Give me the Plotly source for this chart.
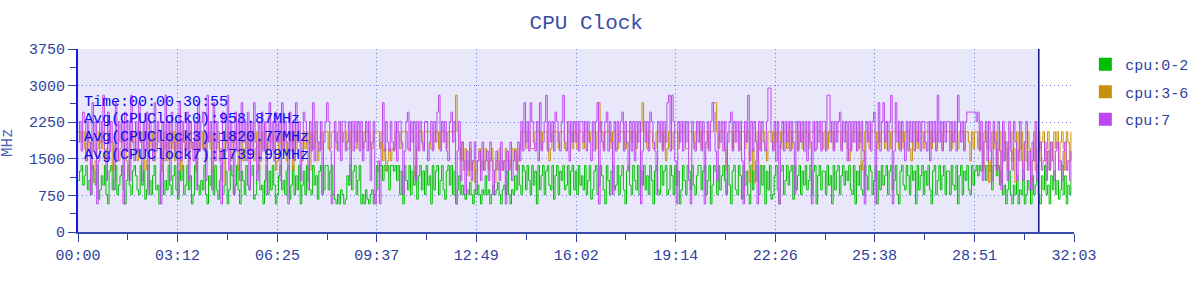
import plotly.graph_objects as go

# ---------------- data (MHz, one sample every 3 s) ----------------
sample_step_s = 3
cpu_0_2 = [
    1056, 1248, 1363, 960, 1152, 1363, 864, 1056, 768, 1363, 1248, 960, 1363, 672, 864, 1152, 960, 1363, 768, 576,
    1248, 1363, 864, 1056, 1363, 768, 960, 1152, 1363, 864, 576, 1056, 1363, 960, 768, 1248, 1363, 1152, 864, 768,
    1363, 960, 1248, 672, 864, 1363, 1056, 768, 1152, 1363, 864, 960, 576, 1248, 1363, 768, 1056, 864, 1363, 960,
    768, 1152, 1363, 864, 672, 1248, 1056, 1363, 768, 960, 1363, 864, 1152, 576, 768, 1363, 1248, 960, 768, 1056,
    864, 1363, 768, 576, 1152, 960, 1248, 768, 1363, 864, 672, 1056, 1363, 768, 960, 1248, 576, 864, 1363, 1152,
    768, 960, 1363, 864, 576, 1248, 1056, 768, 1363, 960, 864, 1152, 1363, 672, 768, 1248, 1363, 864, 960, 576,
    1056, 1363, 768, 1248, 864, 1363, 960, 576, 768, 1152, 1363, 864, 1056, 768, 1248, 1363, 672, 960, 1363, 768,
    1152, 864, 1363, 576, 960, 1248, 768, 1363, 1056, 864, 768, 1363, 960, 1152, 672, 1248, 1363, 768, 864, 1363,
    1363, 864, 1248, 1363, 768, 672, 576, 768, 576, 864, 768, 576, 672, 1152, 960, 1363, 864, 1248, 1363, 768,
    1056, 1363, 576, 768, 576, 864, 672, 576, 768, 864, 576, 768, 1363, 1248, 1363, 1363, 1056, 1363, 1248, 1363,
    864, 1363, 1363, 1248, 1363, 1056, 1363, 768, 1248, 576, 1363, 1056, 864, 1363, 768, 1248, 960, 1363, 672, 1152,
    1363, 864, 1248, 768, 1363, 960, 1152, 576, 1363, 864, 1248, 1363, 768, 1056, 1363, 864, 672, 1248, 1363, 960,
    1363, 768, 1248, 576, 864, 1152, 768, 960, 768, 672, 864, 768, 1017, 768, 576, 864, 768, 960, 768, 576,
    864, 768, 1152, 768, 864, 576, 768, 960, 768, 864, 1017, 768, 576, 864, 960, 768, 1248, 768, 576, 864,
    768, 1152, 864, 1363, 960, 768, 1363, 1248, 864, 1363, 1056, 768, 1363, 960, 1248, 576, 1363, 864, 1152, 1363,
    768, 1248, 1363, 960, 864, 1363, 672, 1152, 1363, 768, 1248, 1056, 1363, 864, 960, 1363, 768, 1248, 1363, 864,
    1248, 768, 1363, 960, 1152, 864, 1363, 768, 1056, 1363, 672, 864, 1248, 1363, 768, 960, 1363, 1152, 864, 576,
    1363, 1056, 768, 1248, 1363, 864, 960, 1363, 768, 1152, 1363, 864, 576, 1248, 1363, 960, 768, 1363, 1056, 864,
    1363, 768, 1248, 960, 1363, 864, 1152, 768, 1363, 1056, 576, 1248, 1363, 864, 768, 1363, 960, 1248, 1363, 768,
    864, 1363, 1152, 768, 1363, 960, 1248, 576, 864, 1363, 1056, 768, 1363, 1248, 864, 1363, 960, 768, 1152, 1363,
    1363, 864, 1248, 1363, 768, 1056, 1363, 576, 960, 1363, 1248, 768, 1363, 864, 1152, 1363, 1056, 768, 1363, 960,
    576, 1248, 1363, 864, 768, 1363, 1152, 672, 1363, 960, 1248, 768, 576, 1363, 864, 1248, 1363, 1056, 768, 1363,
    960, 1363, 576, 1248, 864, 1363, 672, 768, 1152, 1363, 864, 576, 1248, 1363, 768, 1056, 1363, 960, 1248, 1363,
    672, 1363, 864, 1152, 1363, 768, 1248, 960, 1363, 864, 1056, 1363, 768, 1248, 1363, 576, 1152, 1363, 864, 1248,
    1248, 768, 1363, 960, 1152, 576, 1363, 864, 1248, 1363, 768, 1152, 1363, 960, 1248, 1056, 1363, 864, 768, 1363,
    576, 1248, 960, 1363, 864, 768, 1363, 1152, 864, 1363, 1248, 768, 1056, 1363, 576, 1248, 864, 1363, 960, 1152,
    1363, 768, 1248, 1363, 864, 1056, 1363, 768, 576, 1248, 1363, 960, 864, 1363, 1152, 768, 1363, 1056, 1248, 576,
    1363, 864, 1152, 1363, 768, 1248, 960, 1363, 864, 576, 1248, 1363, 768, 1056, 1363, 864, 1152, 1363, 768, 1248,
    1248, 768, 1363, 960, 864, 1363, 576, 1152, 1363, 768, 1248, 1056, 1363, 864, 768, 1363, 960, 1248, 1363, 1152,
    1363, 1248, 1363, 1363, 1056, 1363, 1248, 1363, 864, 1363, 1363, 1152, 1363, 960, 1248, 768, 960, 576, 864, 1248,
    768, 576, 960, 768, 1152, 576, 864, 768, 1248, 576, 768, 1056, 864, 576, 1152, 768, 960, 1363, 768, 576,
    1152, 864, 1363, 768, 960, 576, 1152, 864, 1248, 768, 1056, 672, 864, 1363, 768, 1152, 576, 960, 768, 1056,
]
cpu_3_6 = [
    2054, 2054, 1843, 2054, 1708, 1459, 2054, 1708, 1843, 1267, 1017, 1459, 1708, 2054, 1843, 1708, 2054, 1459, 1708, 2054,
    2054, 1843, 1267, 1708, 2054, 2054, 1459, 1708, 1843, 2054, 1708, 1459, 1152, 1708, 2054, 1843, 2054, 1708, 1459, 2054,
    1843, 2054, 1708, 1267, 1459, 2054, 1843, 1708, 2054, 1459, 1708, 2054, 2054, 1843, 1267, 1708, 2054, 1459, 1843, 2054,
    1708, 2054, 1459, 1843, 2054, 1708, 1267, 2054, 1843, 1708, 2054, 1459, 2054, 1708, 1843, 2054, 1267, 1708, 2054, 2054,
    1708, 2054, 1459, 1843, 2054, 1708, 1267, 2054, 1843, 1708, 2054, 1459, 1708, 2054, 1017, 1843, 2054, 1708, 1459, 2054,
    1843, 2054, 1708, 1267, 2054, 1843, 1459, 1708, 2054, 2054, 1708, 1843, 2054, 1459, 1708, 2054, 1267, 1843, 2054, 1708,
    2054, 1459, 1708, 2054, 1843, 2054, 1708, 1267, 1459, 2054, 1843, 1708, 2054, 2054, 1459, 1708, 2054, 1843, 1267, 2054,
    1708, 2054, 2054, 1843, 1459, 2054, 1708, 2054, 1843, 1267, 2054, 1708, 2054, 2054, 1459, 1843, 2054, 1708, 2054, 2054,
    2054, 1708, 1708, 2054, 2054, 2054, 1708, 2054, 2054, 2054, 1843, 2054, 2054, 1708, 1708, 2054, 2054, 2054, 2054, 1708,
    2054, 2054, 2054, 1708, 2054, 2054, 2054, 2054, 1708, 1708, 2054, 2054, 2054, 2054, 1708, 2054, 1459, 1708, 1267, 1459,
    1708, 1459, 1708, 1708, 2054, 2054, 2054, 1708, 2054, 2054, 2054, 2054, 1708, 1708, 2054, 2054, 1152, 1267, 1708, 2054,
    2054, 2054, 1708, 2054, 2054, 2054, 2054, 1708, 1708, 2054, 2054, 2054, 1708, 2054, 2054, 2054, 2054, 1708, 2054, 2054,
    2054, 2054, 2054, 2803, 2054, 1708, 1459, 1843, 1267, 1708, 1459, 1152, 1708, 1267, 1459, 1017, 1267, 1459, 1708, 1267,
    1459, 1267, 1708, 1459, 1267, 1459, 1708, 1267, 1017, 1459, 1267, 1708, 1459, 1267, 1459, 1708, 1459, 1267, 1459, 1708,
    1459, 1708, 1267, 1459, 1708, 2054, 2054, 2054, 1708, 2054, 2054, 1708, 1708, 1708, 2054, 2054, 2054, 2054, 1708, 2054,
    2054, 2054, 1708, 1459, 1708, 2054, 2054, 2054, 2054, 1708, 2054, 2054, 2054, 1708, 1708, 2054, 2054, 2054, 1708, 2054,
    2054, 1708, 2054, 2054, 2054, 1708, 2054, 2054, 2054, 1843, 2054, 2054, 2054, 1708, 2054, 2650, 2054, 2054, 1708, 2054,
    2054, 2054, 2054, 1708, 2054, 2054, 1708, 1708, 2054, 2054, 2054, 2054, 1708, 2054, 2054, 2054, 1843, 2054, 2054, 1708,
    2054, 2054, 2054, 2650, 2054, 2054, 1708, 2054, 2054, 2054, 1708, 1708, 2054, 2054, 2054, 2054, 1708, 2054, 1459, 1708,
    2054, 2054, 1708, 2054, 2054, 2054, 1708, 2054, 2054, 2054, 2054, 1708, 1708, 2054, 2054, 2054, 1708, 2054, 2054, 2054,
    2054, 1708, 2054, 2054, 2054, 1708, 2054, 2054, 2054, 2650, 2650, 2054, 1708, 2054, 2054, 2054, 1708, 1267, 2054, 2054,
    2054, 1708, 2054, 2054, 2054, 2054, 1708, 2054, 2054, 1708, 2054, 2054, 1017, 1267, 1708, 1017, 1459, 2054, 1708, 2054,
    2054, 2054, 1708, 1459, 2054, 2054, 2054, 1708, 2054, 1843, 2054, 2054, 1708, 2054, 2054, 2054, 1708, 2054, 2054, 1708,
    2054, 2054, 2054, 1708, 2054, 2054, 1708, 2054, 2054, 2054, 1708, 2054, 2054, 2054, 1708, 1708, 2054, 2054, 2054, 1708,
    2054, 2054, 1708, 2054, 2054, 2054, 1708, 2054, 2054, 2054, 2054, 1708, 2054, 2054, 2054, 1708, 1459, 1708, 2054, 2054,
    2054, 2054, 1708, 2054, 1267, 1459, 2054, 2054, 2054, 1708, 2054, 2054, 2054, 2054, 1708, 2054, 1843, 2054, 2054, 1708,
    2054, 2054, 2054, 1708, 2054, 2054, 2054, 2054, 1708, 2054, 2054, 1708, 2054, 2054, 2054, 1708, 1459, 2054, 2054, 2054,
    1708, 2054, 2054, 2054, 1708, 2054, 2054, 2054, 2054, 1708, 2054, 2054, 1708, 2054, 2054, 2054, 1708, 2054, 2054, 2054,
    2054, 2054, 1708, 2054, 2054, 2054, 1708, 2054, 2054, 2054, 1708, 2054, 2054, 1843, 1459, 2054, 1708, 2054, 2054, 1708,
    2054, 1708, 1267, 2054, 2054, 1708, 1017, 1459, 2054, 1708, 2054, 1267, 1708, 2054, 1017, 1459, 2054, 1708, 1267, 1843,
    2054, 1459, 1708, 1017, 2054, 1459, 1708, 2054, 1267, 1843, 1459, 2054, 1708, 1017, 1459, 2054, 1267, 1708, 2054, 1459,
    1843, 2054, 1459, 1708, 2054, 1267, 1843, 1459, 2054, 1708, 2054, 1459, 1843, 2054, 1708, 1267, 2054, 1843, 1459, 2054,
]
cpu_7 = [
    1843, 2265, 1660, 2457, 2265, 1459, 2265, 1843, 768, 2650, 1660, 2265, 576, 1459, 2265, 1843, 2803, 1660, 1056, 2457,
    1660, 2265, 1843, 864, 2650, 1459, 2265, 1843, 2265, 576, 2457, 1660, 2265, 1056, 2803, 1843, 1459, 2265, 1660, 2650,
    1843, 1056, 2265, 1660, 2457, 768, 2265, 1843, 1459, 2650, 1660, 2265, 1843, 576, 2265, 1459, 2803, 1660, 2265, 1056,
    2457, 1843, 1660, 2265, 768, 2650, 1459, 2265, 1843, 1660, 2457, 1056, 2265, 1843, 1459, 2265, 864, 2650, 1660, 2265,
    2457, 1660, 1056, 2803, 1843, 2265, 864, 2650, 1459, 2265, 1843, 1660, 576, 2457, 2265, 1660, 2803, 1267, 2265, 1843,
    768, 2457, 1660, 2265, 1056, 2650, 1843, 2265, 1459, 2457, 864, 2265, 1660, 2650, 1843, 1056, 2265, 1459, 2457, 1660,
    2265, 768, 1843, 2650, 1660, 2265, 1459, 2457, 1843, 2265, 1056, 2650, 1660, 2265, 1843, 576, 2457, 1660, 2265, 1459,
    2650, 1843, 2265, 1056, 1660, 2457, 2265, 1843, 864, 2265, 1660, 2650, 1459, 2265, 1843, 1660, 2265, 768, 1843, 2265,
    2650, 2265, 1660, 576, 768, 2265, 1843, 1660, 2265, 1459, 2265, 2265, 1660, 1843, 2265, 1056, 2265, 1660, 2265, 1843,
    2265, 1660, 2265, 1459, 1843, 2265, 1660, 2265, 1056, 1843, 2265, 576, 864, 1459, 576, 1843, 2650, 1660, 2265, 1843,
    1660, 2265, 1843, 1660, 2265, 1459, 2265, 2265, 1843, 768, 1660, 2265, 2457, 1660, 2265, 1843, 2265, 1056, 2265, 1660,
    2265, 1843, 1660, 2265, 2265, 1459, 1843, 2265, 1660, 2265, 1843, 2457, 2803, 1660, 2265, 1843, 2265, 1660, 1459, 2265,
    2457, 1843, 2265, 576, 1660, 2265, 1056, 1843, 1459, 768, 1660, 1267, 1843, 1056, 1459, 1843, 864, 1459, 1660, 1056,
    1843, 1267, 1459, 1660, 1056, 1843, 1459, 768, 1267, 1660, 1459, 1056, 1843, 1267, 1459, 576, 1660, 1267, 1843, 1056,
    1459, 1660, 1267, 1843, 1459, 2265, 1660, 2650, 1843, 2265, 1660, 2650, 2265, 1843, 1660, 2265, 1459, 2650, 1660, 1843,
    2265, 2803, 1660, 2265, 1843, 2265, 1660, 2457, 2265, 1843, 1660, 2265, 2803, 1843, 1660, 2265, 1459, 2265, 1843, 2265,
    1843, 2265, 1660, 2265, 2265, 1843, 2265, 1660, 2265, 1843, 1459, 2265, 1660, 2265, 2650, 576, 2265, 1843, 1660, 2265,
    2457, 1660, 2265, 1843, 768, 2265, 1660, 2265, 1843, 2265, 2457, 1660, 2265, 1843, 1267, 2265, 1660, 2265, 1459, 2265,
    1843, 2265, 576, 1660, 2265, 1843, 2265, 1660, 2457, 2265, 1843, 1660, 768, 2265, 1843, 2265, 1660, 2265, 1843, 2650,
    2803, 1660, 2803, 2265, 1459, 576, 2265, 1843, 2265, 1660, 2265, 1843, 2265, 1056, 576, 2265, 1843, 1660, 2265, 1843,
    2265, 1660, 2265, 576, 1843, 2265, 1660, 2265, 2650, 2457, 1660, 1056, 2265, 1843, 2265, 1660, 2265, 768, 1843, 2265,
    2457, 1660, 2265, 1843, 2265, 1660, 2265, 1459, 576, 2265, 1843, 2803, 1459, 2265, 1660, 2265, 1843, 576, 2265, 1660,
    2265, 1843, 1660, 2265, 2950, 2950, 1843, 1660, 2265, 1459, 2265, 576, 1843, 2265, 1660, 2265, 1843, 2265, 1660, 2265,
    1843, 768, 2265, 1660, 2265, 1843, 2265, 1660, 2265, 1459, 2265, 1843, 576, 2265, 1660, 2265, 1843, 2265, 1660, 2265,
    2265, 1660, 2803, 2803, 1843, 2265, 1660, 2265, 1843, 2265, 2457, 1660, 2265, 1843, 2265, 1459, 2265, 1660, 2265, 1843,
    2265, 1660, 2265, 1843, 2265, 1660, 576, 2265, 1843, 2265, 1660, 2265, 2457, 576, 1843, 2650, 1660, 2265, 2650, 1843,
    2265, 1660, 2265, 2803, 576, 1660, 2650, 1843, 2265, 1660, 2265, 1843, 1459, 2265, 1660, 2265, 1843, 2265, 1660, 2265,
    1843, 2265, 1660, 2265, 2265, 1843, 1660, 2265, 1459, 2265, 1843, 2265, 1660, 2803, 1843, 2265, 1660, 2265, 1843, 2265,
    2265, 1660, 2265, 1843, 2265, 1660, 2803, 2265, 1843, 2265, 1660, 2265, 2457, 2457, 2457, 2457, 2457, 2457, 2265, 2457,
    1660, 2265, 1056, 1843, 2265, 1459, 2265, 1660, 1056, 2265, 1843, 1267, 2265, 1660, 864, 2265, 1459, 1843, 1056, 2265,
    1660, 1267, 2265, 1843, 1056, 1660, 2265, 1459, 1056, 1843, 2265, 1267, 1660, 864, 1843, 1459, 2265, 1056, 1660, 1843,
    1267, 1459, 1843, 1056, 1660, 1267, 1843, 1459, 1056, 1660, 1843, 1267, 1459, 1056, 1660, 1843, 1267, 1459, 1056, 1660,
]
series_names = ["cpu:0-2", "cpu:3-6", "cpu:7"]
series_colors = ["#00BF00", "#C8900C", "#BE46F0"]
x_tick_labels = ["00:00", "03:12", "06:25", "09:37", "12:49", "16:02",
                 "19:14", "22:26", "25:38", "28:51", "32:03"]
y_tick_values = [0, 750, 1500, 2250, 3000, 3750]
selection_end_s = 30 * 60 + 55
info_lines = ["Time:00:00-30:55",
              "Avg(CPUClock0):958.87MHz",
              "Avg(CPUClock3):1820.77MHz",
              "Avg(CPUClock7):1739.99MHz"]


def mmss(s):
    m, sec = s.split(":")
    return int(m) * 60 + int(sec)


x_tick_vals = [mmss(s) for s in x_tick_labels]
x_max = x_tick_vals[-1]

n = min(len(cpu_0_2), len(cpu_3_6), len(cpu_7))
times = [i * sample_step_s for i in range(n)]

FONT = "Liberation Mono"
TICK_COL = "#2E3F9E"
GRID_COL = "#6E7ED6"
DOTS = "1px,3px"

fig = go.Figure()
for name, col, vals in zip(series_names, series_colors, [cpu_0_2, cpu_3_6, cpu_7]):
    fig.add_trace(go.Scatter(x=times, y=vals[:n], mode="lines", line=dict(color=col, width=1, shape="hv"),
                             name=name, showlegend=False, hoverinfo="skip"))
for i, (name, col) in enumerate(zip(series_names, series_colors)):
    fig.add_trace(go.Scatter(x=[None], y=[None], mode="markers", name=name, legendgroup=f"g{i}",
                             marker=dict(symbol="square", size=13, color=col)))

# shaded selection + marker line
fig.add_shape(type="rect", xref="x", yref="y", x0=0, x1=selection_end_s, y0=0, y1=y_tick_values[-1],
              fillcolor="#E8E8FA", line=dict(width=0), layer="below")
fig.add_shape(type="line", xref="x", yref="y", x0=selection_end_s, x1=selection_end_s, y0=0,
              y1=y_tick_values[-1], line=dict(color="#12128A", width=1.5), layer="above")

line_y = [0.708, 0.613, 0.515, 0.42]
for txt, yy in zip(info_lines, line_y):
    fig.add_annotation(text=txt, xref="paper", yref="paper", x=0.004, y=yy, xanchor="left", yanchor="middle",
                       showarrow=False, font=dict(family=FONT, size=15, color="#0A0AF5"))

fig.add_annotation(text="MHz", xref="paper", yref="paper", x=-0.0695, y=0.49, textangle=-90,
                   xanchor="center", yanchor="middle", showarrow=False,
                   font=dict(family=FONT, size=16, color="#4F66BE"))

fig.update_layout(
    width=1194, height=283,
    margin=dict(l=78, r=120, t=49, b=51, autoexpand=False),
    paper_bgcolor="white", plot_bgcolor="white",
    title=dict(text="CPU Clock", x=0.491, xanchor="center", y=0.922, yanchor="middle", yref="container",
               font=dict(family=FONT, size=21, color="#3A4CA6")),
    legend=dict(xref="container", yref="container", x=0.909, y=0.83, xanchor="left", yanchor="top",
                traceorder="grouped", tracegroupgap=5,
                font=dict(family=FONT, size=15, color=TICK_COL), itemsizing="trace",
                bgcolor="rgba(0,0,0,0)"),
    showlegend=True,
)
fig.update_xaxes(range=[0, x_max], tickmode="array", tickvals=x_tick_vals, ticktext=x_tick_labels,
                 showgrid=True, gridcolor=GRID_COL, griddash=DOTS, gridwidth=1,
                 showline=True, linecolor="#3848A8", linewidth=2, zeroline=False,
                 ticks="outside", ticklen=8, tickcolor=TICK_COL, tickwidth=1,
                 minor=dict(tickmode="linear", tick0=0, dtick=x_max / 20, ticklen=6, tickcolor=TICK_COL,
                            ticks="outside", showgrid=False),
                 tickfont=dict(family=FONT, size=15, color=TICK_COL))
fig.update_yaxes(range=[0, y_tick_values[-1]], tickmode="array", tickvals=y_tick_values,
                 showgrid=True, gridcolor=GRID_COL, griddash=DOTS, gridwidth=1,
                 showline=True, linecolor="#1818E0", linewidth=2, zeroline=False,
                 ticks="outside", ticklen=8, tickcolor=TICK_COL, tickwidth=1,
                 minor=dict(tickmode="linear", tick0=0, dtick=375, ticklen=6, tickcolor=TICK_COL,
                            ticks="outside", showgrid=False),
                 tickfont=dict(family=FONT, size=15, color=TICK_COL))

fig.write_html("out.html")
